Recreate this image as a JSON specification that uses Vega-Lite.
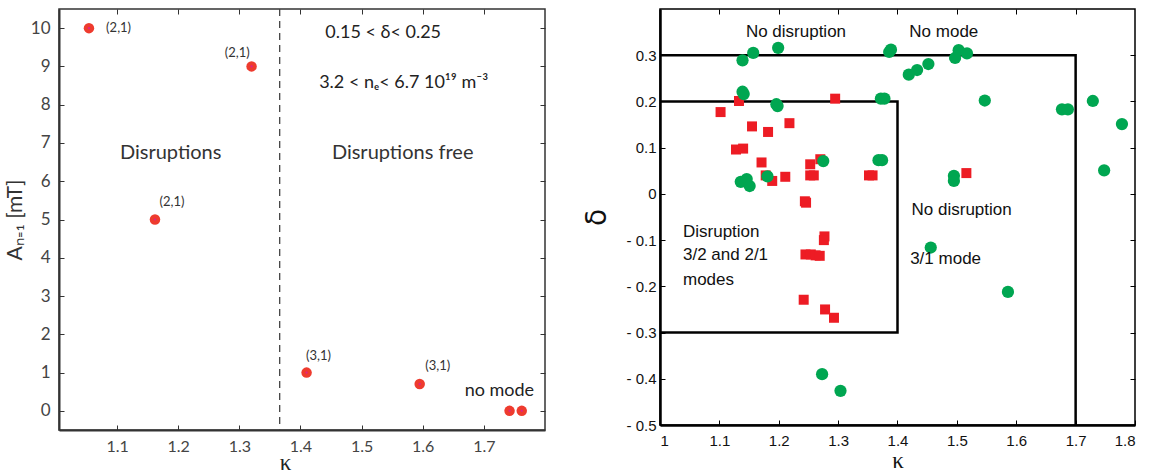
{
  "$schema": "https://vega.github.io/schema/vega-lite/v6.json",
  "padding": {"left": 3, "top": 7, "right": 5, "bottom": 0},
  "background": "white",
  "spacing": 36,
  "config": {"font": "Liberation Sans", "axis": {"grid": false}},
  "datasets": {
    "leftPoints": [
      {"kappa": 1.054, "A": 10},
      {"kappa": 1.32, "A": 9},
      {"kappa": 1.162, "A": 5},
      {"kappa": 1.41, "A": 1},
      {"kappa": 1.595, "A": 0.7},
      {"kappa": 1.742, "A": 0},
      {"kappa": 1.762, "A": 0}
    ],
    "leftRule": [{"kappa": 1.366}],
    "modeLabels": [
      {"kappa": 1.1025, "A": 10.0, "label": "(2,1)"},
      {"kappa": 1.2967, "A": 9.35, "label": "(2,1)"},
      {"kappa": 1.19, "A": 5.45, "label": "(2,1)"},
      {"kappa": 1.4295, "A": 1.44, "label": "(3,1)"},
      {"kappa": 1.6246, "A": 1.18, "label": "(3,1)"}
    ],
    "regionLabels": [
      {"kappa": 1.1877, "A": 6.73, "label": "Disruptions"},
      {"kappa": 1.5672, "A": 6.73, "label": "Disruptions free"}
    ],
    "condLabels": [
      {"kappa": 1.5352, "A": 9.87, "label": "0.15 < δ<  0.25"},
      {"kappa": 1.5689, "A": 8.56, "label": "3.2 < nₑ< 6.7 10¹⁹ m⁻³"},
      {"kappa": 1.7254, "A": 0.52, "label": "no mode"}
    ],
    "boxes": [
      {"kappa": 1.0, "delta": 0.2, "box": "a", "ord": 1},
      {"kappa": 1.4, "delta": 0.2, "box": "a", "ord": 2},
      {"kappa": 1.4, "delta": -0.3, "box": "a", "ord": 3},
      {"kappa": 1.0, "delta": -0.3, "box": "a", "ord": 4},
      {"kappa": 1.0, "delta": 0.3, "box": "b", "ord": 1},
      {"kappa": 1.7, "delta": 0.3, "box": "b", "ord": 2},
      {"kappa": 1.7, "delta": -0.5, "box": "b", "ord": 3}
    ],
    "disrupt": [
      {"kappa": 1.102, "delta": 0.177},
      {"kappa": 1.133, "delta": 0.201},
      {"kappa": 1.155, "delta": 0.146},
      {"kappa": 1.182, "delta": 0.134},
      {"kappa": 1.218, "delta": 0.153},
      {"kappa": 1.295, "delta": 0.206},
      {"kappa": 1.128, "delta": 0.096},
      {"kappa": 1.14, "delta": 0.098},
      {"kappa": 1.171, "delta": 0.068},
      {"kappa": 1.178, "delta": 0.04},
      {"kappa": 1.189, "delta": 0.028},
      {"kappa": 1.211, "delta": 0.037},
      {"kappa": 1.253, "delta": 0.064},
      {"kappa": 1.253, "delta": 0.04},
      {"kappa": 1.259, "delta": 0.04},
      {"kappa": 1.27, "delta": 0.075},
      {"kappa": 1.244, "delta": -0.016},
      {"kappa": 1.246, "delta": -0.019},
      {"kappa": 1.277, "delta": -0.092},
      {"kappa": 1.276, "delta": -0.1},
      {"kappa": 1.352, "delta": 0.04},
      {"kappa": 1.358, "delta": 0.04},
      {"kappa": 1.516, "delta": 0.045},
      {"kappa": 1.245, "delta": -0.131},
      {"kappa": 1.254, "delta": -0.131},
      {"kappa": 1.262, "delta": -0.133},
      {"kappa": 1.269, "delta": -0.134},
      {"kappa": 1.242, "delta": -0.229},
      {"kappa": 1.278, "delta": -0.25},
      {"kappa": 1.293, "delta": -0.268}
    ],
    "free": [
      {"kappa": 1.139, "delta": 0.289},
      {"kappa": 1.157, "delta": 0.305},
      {"kappa": 1.199, "delta": 0.316},
      {"kappa": 1.139, "delta": 0.221},
      {"kappa": 1.141, "delta": 0.216},
      {"kappa": 1.196, "delta": 0.194},
      {"kappa": 1.198, "delta": 0.19},
      {"kappa": 1.275, "delta": 0.071},
      {"kappa": 1.136, "delta": 0.026},
      {"kappa": 1.146, "delta": 0.032},
      {"kappa": 1.151, "delta": 0.017},
      {"kappa": 1.181, "delta": 0.038},
      {"kappa": 1.372, "delta": 0.206},
      {"kappa": 1.378, "delta": 0.206},
      {"kappa": 1.368, "delta": 0.073},
      {"kappa": 1.374, "delta": 0.073},
      {"kappa": 1.386, "delta": 0.307},
      {"kappa": 1.389, "delta": 0.312},
      {"kappa": 1.419, "delta": 0.258},
      {"kappa": 1.433, "delta": 0.268},
      {"kappa": 1.452, "delta": 0.281},
      {"kappa": 1.497, "delta": 0.294},
      {"kappa": 1.503, "delta": 0.311},
      {"kappa": 1.517, "delta": 0.304},
      {"kappa": 1.547, "delta": 0.202},
      {"kappa": 1.677, "delta": 0.183},
      {"kappa": 1.687, "delta": 0.183},
      {"kappa": 1.729, "delta": 0.201},
      {"kappa": 1.778, "delta": 0.151},
      {"kappa": 1.748, "delta": 0.051},
      {"kappa": 1.495, "delta": 0.039},
      {"kappa": 1.495, "delta": 0.028},
      {"kappa": 1.456, "delta": -0.116},
      {"kappa": 1.586, "delta": -0.212},
      {"kappa": 1.273, "delta": -0.39},
      {"kappa": 1.304, "delta": -0.426}
    ],
    "rightLabels": [
      {"kappa": 1.229, "delta": 0.351, "label": "No disruption"},
      {"kappa": 1.478, "delta": 0.351, "label": "No mode"},
      {"kappa": 1.508, "delta": -0.035, "label": "No disruption"},
      {"kappa": 1.481, "delta": -0.141, "label": "3/1 mode"}
    ],
    "leftBlock": [
      {"kappa": 1.0387, "delta": -0.082, "label": "Disruption"},
      {"kappa": 1.0387, "delta": -0.132, "label": "3/2 and 2/1"},
      {"kappa": 1.0387, "delta": -0.186, "label": "modes"}
    ]
  },
  "hconcat": [
    {
      "width": 486,
      "height": 421,
      "view": {"stroke": "#333", "strokeWidth": 1.5},
      "resolve": {"axis": {"x": "independent", "y": "independent"}},
      "layer": [
        {
          "data": {"name": "leftRule"},
          "mark": {"type": "rule", "stroke": "#444", "strokeDash": [7, 5], "strokeWidth": 1.3},
          "encoding": {
            "x": {"field": "kappa", "type": "quantitative", "scale": {"domain": [1.005, 1.8], "nice": false, "zero": false}, "axis": null}
          }
        },
        {
          "data": {"name": "leftPoints"},
          "mark": {"type": "circle", "size": 110, "color": "#ee3b2e", "opacity": 1},
          "encoding": {
            "x": {"field": "kappa", "type": "quantitative", "scale": {"domain": [1.005, 1.8], "nice": false, "zero": false},
              "axis": {"orient": "bottom", "values": [1.1, 1.2, 1.3, 1.4, 1.5, 1.6, 1.7], "format": ".1f", "tickSize": -5, "labelPadding": 13,
                "domainColor": "#333", "domainWidth": 2, "tickColor": "#333", "labelColor": "#444", "labelFont": "Lato", "labelFontSize": 16,
                "title": "κ", "titleFont": "Liberation Serif", "titleFontSize": 23, "titleFontWeight": "normal", "titleColor": "#222", "titleX": 226, "titlePadding": -3}},
            "y": {"field": "A", "type": "quantitative", "scale": {"domain": [-0.5, 10.5], "nice": false, "zero": false},
              "axis": {"orient": "left", "values": [0, 1, 2, 3, 4, 5, 6, 7, 8, 9, 10], "format": "d", "tickSize": -5, "labelPadding": 14,
                "domainColor": "#333", "domainWidth": 2, "tickColor": "#333", "labelColor": "#444", "labelFont": "Lato", "labelFontSize": 17,
                "title": "Aₙ₌₁ [mT]", "titleFont": "Lato", "titleFontSize": 21, "titleFontWeight": "normal", "titleColor": "#333", "titlePadding": 5}}
          }
        },
        {
          "data": {"name": "leftPoints"},
          "mark": {"type": "circle", "size": 5, "color": "#e0208a", "opacity": 1},
          "encoding": {
            "x": {"field": "kappa", "type": "quantitative", "axis": null},
            "y": {"field": "A", "type": "quantitative", "axis": null}
          }
        },
        {
          "data": {"name": "modeLabels"},
          "mark": {"type": "text", "font": "Lato", "fontSize": 13, "color": "#333"},
          "encoding": {
            "x": {"field": "kappa", "type": "quantitative", "axis": null},
            "y": {"field": "A", "type": "quantitative", "axis": null},
            "text": {"field": "label"}
          }
        },
        {
          "data": {"name": "regionLabels"},
          "mark": {"type": "text", "font": "Lato", "fontSize": 20, "color": "#333"},
          "encoding": {
            "x": {"field": "kappa", "type": "quantitative", "axis": null},
            "y": {"field": "A", "type": "quantitative", "axis": null},
            "text": {"field": "label"}
          }
        },
        {
          "data": {"name": "condLabels"},
          "mark": {"type": "text", "font": "Lato", "fontSize": 18, "color": "#222"},
          "encoding": {
            "x": {"field": "kappa", "type": "quantitative",
              "axis": {"orient": "top", "values": [1.1, 1.2, 1.3, 1.4, 1.5, 1.6, 1.7], "labels": false, "domain": false, "tickSize": -5, "tickColor": "#333", "title": null}},
            "y": {"field": "A", "type": "quantitative",
              "axis": {"orient": "right", "values": [0, 1, 2, 3, 4, 5, 6, 7, 8, 9, 10], "labels": false, "domain": false, "tickSize": -5, "tickColor": "#333", "title": null}},
            "text": {"field": "label"}
          }
        }
      ]
    },
    {
      "width": 475,
      "height": 416,
      "view": {"stroke": "#000", "strokeWidth": 1.5},
      "resolve": {"axis": {"x": "independent", "y": "independent"}},
      "layer": [
        {
          "data": {"name": "boxes"},
          "mark": {"type": "line", "stroke": "#000", "strokeWidth": 2.5},
          "encoding": {
            "x": {"field": "kappa", "type": "quantitative", "scale": {"domain": [1, 1.8], "nice": false, "zero": false}, "axis": null},
            "y": {"field": "delta", "type": "quantitative", "scale": {"domain": [-0.5, 0.4], "nice": false, "zero": false}, "axis": null},
            "detail": {"field": "box"},
            "order": {"field": "ord", "type": "quantitative"}
          }
        },
        {
          "data": {"name": "disrupt"},
          "mark": {"type": "square", "size": 100, "color": "#ed1c24", "opacity": 1},
          "encoding": {
            "x": {"field": "kappa", "type": "quantitative",
              "axis": {"orient": "bottom", "values": [1, 1.1, 1.2, 1.3, 1.4, 1.5, 1.6, 1.7, 1.8], "labelExpr": "format(datum.value, '.2~f')", "tickSize": -5, "labelPadding": 13,
                "domainColor": "#000", "domainWidth": 2.5, "tickColor": "#000", "labelColor": "#111", "labelFontSize": 15,
                "title": "κ", "titleFont": "Liberation Serif", "titleFontSize": 23, "titleFontWeight": "normal", "titleColor": "#111", "titlePadding": 1}},
            "y": {"field": "delta", "type": "quantitative",
              "axis": {"orient": "left", "values": [-0.5, -0.4, -0.3, -0.2, -0.1, 0, 0.1, 0.2, 0.3], "labelExpr": "datum.value < 0 ? '- ' + format(-datum.value, '.1f') : format(datum.value, '.2~f')", "tickSize": -5, "labelPadding": 9,
                "domainColor": "#000", "domainWidth": 2.5, "tickColor": "#000", "labelColor": "#111", "labelFontSize": 15,
                "title": "δ", "titleFont": "DejaVu Sans", "titleFontSize": 28, "titleFontWeight": "normal", "titleColor": "#111", "titlePadding": 14}}
          }
        },
        {
          "data": {"name": "free"},
          "mark": {"type": "circle", "size": 150, "color": "#00a651", "opacity": 1},
          "encoding": {
            "x": {"field": "kappa", "type": "quantitative", "axis": null},
            "y": {"field": "delta", "type": "quantitative", "axis": null}
          }
        },
        {
          "data": {"name": "leftBlock"},
          "mark": {"type": "text", "align": "left", "fontSize": 17, "color": "#111"},
          "encoding": {
            "x": {"field": "kappa", "type": "quantitative", "axis": null},
            "y": {"field": "delta", "type": "quantitative", "axis": null},
            "text": {"field": "label"}
          }
        },
        {
          "data": {"name": "rightLabels"},
          "mark": {"type": "text", "fontSize": 17, "color": "#111"},
          "encoding": {
            "x": {"field": "kappa", "type": "quantitative",
              "axis": {"orient": "top", "values": [1.1, 1.2, 1.3, 1.4, 1.5, 1.6, 1.7], "labels": false, "domain": false, "tickSize": -5, "tickColor": "#000", "title": null}},
            "y": {"field": "delta", "type": "quantitative",
              "axis": {"orient": "right", "values": [-0.4, -0.3, -0.2, -0.1, 0, 0.1, 0.2, 0.3], "labels": false, "domain": false, "tickSize": -5, "tickColor": "#000", "title": null}},
            "text": {"field": "label"}
          }
        }
      ]
    }
  ]
}
